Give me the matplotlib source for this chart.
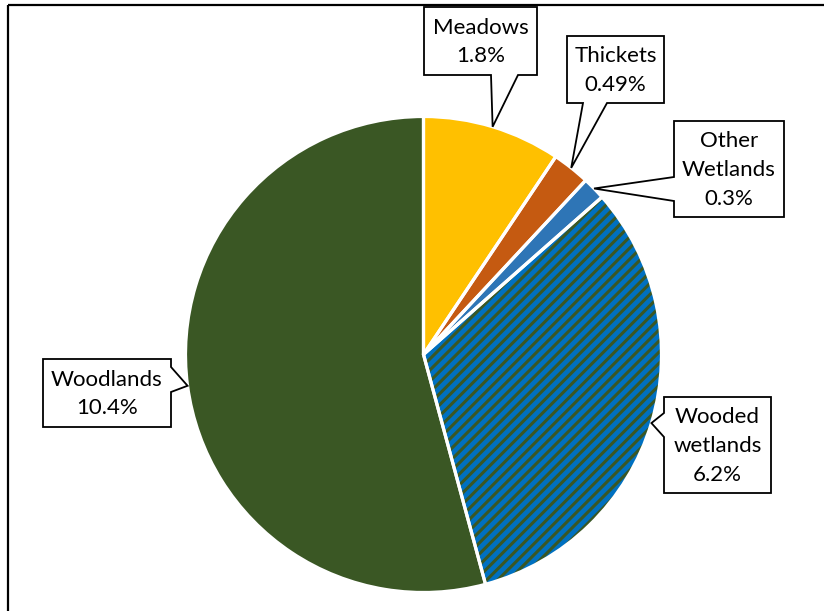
import numpy as np
import matplotlib
matplotlib.use("Agg")
import matplotlib.pyplot as plt
from matplotlib.patches import Polygon

# ── Data ─────────────────────────────────────────────────────────────────────
labels = ["Meadows", "Thickets", "Other\nWetlands", "Wooded\nwetlands", "Woodlands"]
values = [1.8, 0.49, 0.3, 6.2, 10.4]
pct_text = ["1.8%", "0.49%", "0.3%", "6.2%", "10.4%"]
colors = ["#FFC000", "#C55A11", "#2E75B6", "#0070C0", "#3A5724"]

W, H = 824, 611
plt.rcParams["font.family"] = ["Lato", "DejaVu Sans"]
plt.rcParams["hatch.linewidth"] = 2.2


def px(x, y):
    """image pixel coords -> data coords (y up)"""
    return (x, H - y)


# callout boxes in image pixels: (x0, y0, x1, y1), pointer side, pointer base span
callouts = [
    ((424, 7, 537, 75), "bottom", (491, 518)),
    ((567, 36, 664, 103), "bottom", (583, 607)),
    ((674, 121, 784, 217), "left", (177, 201)),
    ((664, 397, 771, 493), "left", (413, 437)),
    ((43, 359, 171, 427), "right", (367, 392)),
]

fig = plt.figure(figsize=(W / 100, H / 100), dpi=100)
ax = fig.add_axes([0, 0, 1, 1])

center = px(423.5, 354.5)
radius = 238

wedges, _ = ax.pie(values, colors=colors, startangle=90, counterclock=False,
                   center=center, radius=radius,
                   wedgeprops=dict(linewidth=0, edgecolor="none"))
# wooded wetlands: blue with dark green diagonal stripes
ww = wedges[3]
ww.set_hatch("///")
ww.set_edgecolor("#3A5724")
ww.set_linewidth(0)

# white separators drawn on top
outline, _ = ax.pie(values, startangle=90, counterclock=False,
                    center=center, radius=radius,
                    wedgeprops=dict(fill=False, linewidth=2.3, edgecolor="white"))

ax.set_xlim(0, W)
ax.set_ylim(0, H)
ax.set_aspect("equal")
ax.axis("off")

# ── Callouts ──
for wedge, lab, pct, (box, side, base) in zip(wedges, labels, pct_text, callouts):
    mid = np.deg2rad((wedge.theta1 + wedge.theta2) / 2)
    tip = (center[0] + radius * np.cos(mid), center[1] + radius * np.sin(mid))
    x0, y0, x1, y1 = box
    a, b = base
    if side == "bottom":
        pts = [px(x0, y0), px(x1, y0), px(x1, y1), px(b, y1), tip, px(a, y1), px(x0, y1)]
    elif side == "left":
        pts = [px(x0, y0), px(x1, y0), px(x1, y1), px(x0, y1), px(x0, b), tip, px(x0, a)]
    else:
        pts = [px(x0, y0), px(x1, y0), px(x1, a), tip, px(x1, b), px(x1, y1), px(x0, y1)]
    ax.add_patch(Polygon(pts, closed=True, facecolor="white", edgecolor="black",
                         linewidth=1.3, joinstyle="miter", zorder=5))
    cx, cy = px((x0 + x1) / 2, (y0 + y1) / 2 + 1)
    ax.text(cx, cy, f"{lab}\n{pct}", ha="center", va="center", multialignment="center",
            fontsize=16, linespacing=1.55, color="black", zorder=6)

# chart border (top and left visible)
ax.plot([8, W], [H - 5, H - 5], color="black", lw=1.6, solid_capstyle="butt")
ax.plot([8, 8], [H - 5, 0], color="black", lw=1.6, solid_capstyle="butt")

fig.savefig("out.png", dpi=100)
